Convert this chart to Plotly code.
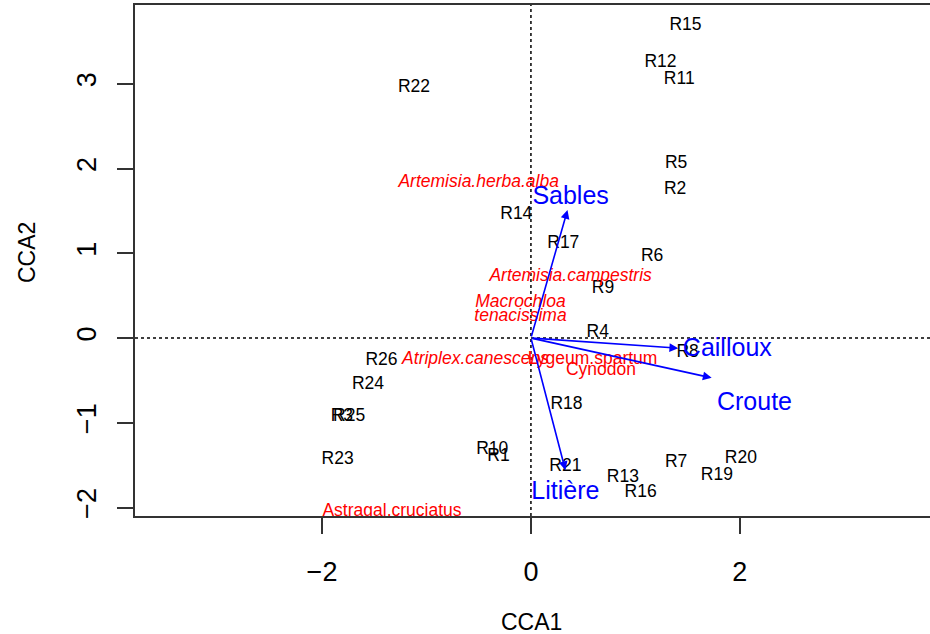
import plotly.graph_objects as go

# Site scores (CCA1, CCA2)
site_labels = ["R15", "R12", "R11", "R22", "R5", "R2", "R14", "R17", "R6", "R9",
               "R4", "R8", "R26", "R24", "R3", "R25", "R18", "R10", "R1", "R23",
               "R21", "R7", "R20", "R19", "R13", "R16"]
site_x = [1.48, 1.24, 1.42, -1.12, 1.39, 1.38, -0.14, 0.31, 1.16, 0.69,
          0.64, 1.50, -1.43, -1.56, -1.81, -1.74, 0.34, -0.37, -0.31, -1.85,
          0.33, 1.39, 2.01, 1.78, 0.88, 1.05]
site_y = [3.69, 3.25, 3.05, 2.96, 2.06, 1.75, 1.46, 1.12, 0.96, 0.58,
          0.06, -0.17, -0.27, -0.55, -0.93, -0.93, -0.79, -1.32, -1.40, -1.44,
          -1.52, -1.47, -1.42, -1.62, -1.65, -1.83]

# Species scores (label positions)
species_labels = ["Artemisia.herba.alba", "Artemisia.campestris", "Macrochloa",
                  "tenacissima", "Atriplex.canescens", "Lygeum.spartum", "Cynodon",
                  "Astragal.cruciatus"]
species_x = [-0.50, 0.38, -0.10, -0.10, -0.53, 0.59, 0.67, -1.33]
species_y = [1.83, 0.72, 0.42, 0.25, -0.26, -0.26, -0.39, -2.05]
species_italic = [True, True, True, True, True, False, False, False]

# Environmental biplot arrows
env_labels = ["Sables", "Cailloux", "Croute", "Litière"]
env_x = [0.35, 1.41, 1.73, 0.33]
env_y = [1.51, -0.12, -0.47, -1.56]
env_label_x = [0.38, 1.88, 2.14, 0.33]
env_label_y = [1.65, -0.14, -0.77, -1.82]

x_ticks = [-2, 0, 2]
y_ticks = [-2, -1, 0, 1, 2, 3]

FONT = "Liberation Sans, Arial, Helvetica, sans-serif"

fig = go.Figure()

fig.add_trace(go.Scatter(
    x=site_x, y=site_y, text=site_labels, mode="text",
    textposition="middle center",
    textfont=dict(family=FONT, size=17.5, color="black"),
    hoverinfo="skip", showlegend=False))

sp_text = [f"<i>{t}</i>" if it else t for t, it in zip(species_labels, species_italic)]
fig.add_trace(go.Scatter(
    x=species_x, y=species_y, text=sp_text, mode="text",
    textposition="middle center",
    textfont=dict(family=FONT, size=17.5, color="#FF0000"),
    hoverinfo="skip", showlegend=False))

fig.add_trace(go.Scatter(
    x=env_label_x, y=env_label_y, text=env_labels, mode="text",
    textposition="middle center",
    textfont=dict(family=FONT, size=25, color="#0000FF"),
    hoverinfo="skip", showlegend=False))

for ex, ey in zip(env_x, env_y):
    fig.add_annotation(
        x=ex, y=ey, ax=0, ay=0, xref="x", yref="y", axref="x", ayref="y",
        text="", showarrow=True, arrowhead=2, arrowsize=1.1, arrowwidth=1.6,
        arrowcolor="#0000FF", standoff=0, startstandoff=0)

# dotted zero lines
fig.add_shape(type="line", xref="x", yref="paper", x0=0, x1=0, y0=0, y1=1,
              line=dict(color="black", width=1.5, dash="dot"), layer="below")
fig.add_shape(type="line", xref="paper", yref="y", x0=0, x1=1, y0=0, y1=0,
              line=dict(color="black", width=1.5, dash="dot"), layer="below")

fig.add_annotation(text="CCA1", xref="paper", yref="paper", x=(531 - 135) / 795,
                   y=-(622 - 516) / 511, showarrow=False,
                   font=dict(family=FONT, size=23, color="black"),
                   xanchor="center", yanchor="middle")
fig.add_annotation(text="CCA2", xref="paper", yref="paper", x=-(135 - 27) / 795,
                   y=(516 - 253) / 511, showarrow=False, textangle=-90,
                   font=dict(family=FONT, size=23, color="black"),
                   xanchor="center", yanchor="middle")

fig.update_xaxes(range=[-3.79, 3.82], tickvals=x_ticks, ticktext=["−2", "0", "2"],
                 ticks="outside", ticklen=16, tickwidth=1.5, tickcolor="#333",
                 showline=True, linecolor="#333", linewidth=2, mirror=True,
                 showgrid=False, zeroline=False, ticklabelstandoff=15,
                 tickfont=dict(family=FONT, size=27, color="black"))
fig.update_yaxes(range=[-2.10, 3.93], tickvals=y_ticks,
                 ticktext=["−2", "−1", "0", "1", "2", "3"],
                 ticks="outside", ticklen=16, tickwidth=1.5, tickcolor="#333",
                 showline=True, linecolor="#333", linewidth=2, mirror=False,
                 showgrid=False, zeroline=False, tickangle=-90, ticklabelstandoff=10,
                 tickfont=dict(family=FONT, size=27, color="black"))

fig.update_layout(width=930, height=634, margin=dict(l=135, r=0, t=5, b=118),
                  plot_bgcolor="white", paper_bgcolor="white")

fig.write_html("out.html", config={"displayModeBar": False},
               post_script="document.body.style.margin='0';")
